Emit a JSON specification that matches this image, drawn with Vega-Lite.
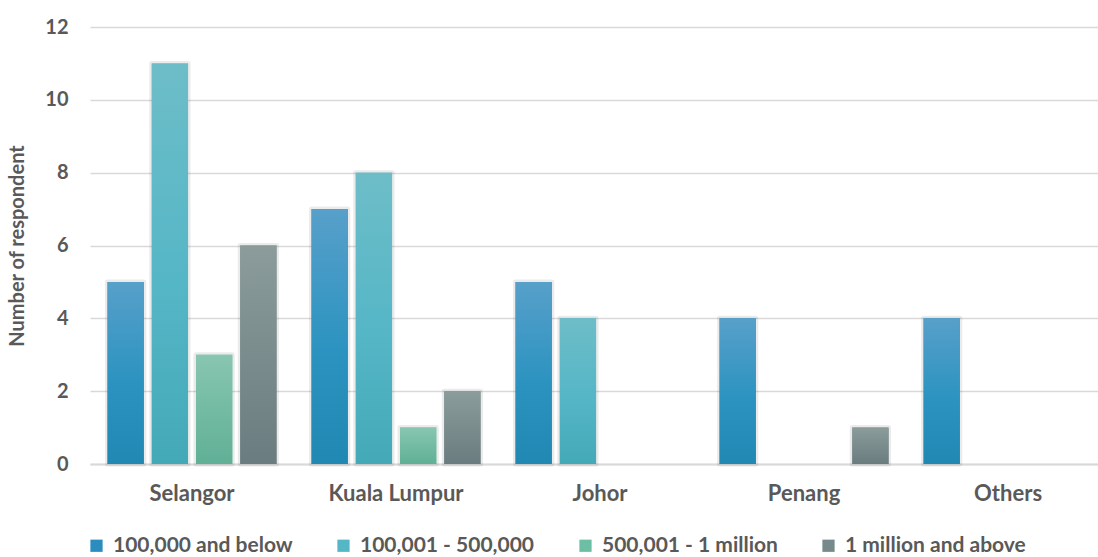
{
  "$schema": "https://vega.github.io/schema/vega-lite/v6.json",
  "width": 1008,
  "height": 437,
  "autosize": "none",
  "padding": {"left": 90, "top": 27, "right": 0, "bottom": 93},
  "background": "#ffffff",
  "config": {
    "view": {"stroke": null},
    "font": "Lato",
    "axis": {"labelFont": "Lato", "titleFont": "Lato", "labelColor": "#595959", "titleColor": "#595959"},
    "legend": {"labelFont": "Lato"}
  },
  "data": {
    "values": [
      {"region": "Selangor", "band": "100,000 and below", "count": 5},
      {"region": "Selangor", "band": "100,001 - 500,000", "count": 11},
      {"region": "Selangor", "band": "500,001 - 1 million", "count": 3},
      {"region": "Selangor", "band": "1 million and above", "count": 6},
      {"region": "Kuala Lumpur", "band": "100,000 and below", "count": 7},
      {"region": "Kuala Lumpur", "band": "100,001 - 500,000", "count": 8},
      {"region": "Kuala Lumpur", "band": "500,001 - 1 million", "count": 1},
      {"region": "Kuala Lumpur", "band": "1 million and above", "count": 2},
      {"region": "Johor", "band": "100,000 and below", "count": 5},
      {"region": "Johor", "band": "100,001 - 500,000", "count": 4},
      {"region": "Johor", "band": "500,001 - 1 million", "count": 0},
      {"region": "Johor", "band": "1 million and above", "count": 0},
      {"region": "Penang", "band": "100,000 and below", "count": 4},
      {"region": "Penang", "band": "100,001 - 500,000", "count": 0},
      {"region": "Penang", "band": "500,001 - 1 million", "count": 0},
      {"region": "Penang", "band": "1 million and above", "count": 1},
      {"region": "Others", "band": "100,000 and below", "count": 4},
      {"region": "Others", "band": "100,001 - 500,000", "count": 0},
      {"region": "Others", "band": "500,001 - 1 million", "count": 0},
      {"region": "Others", "band": "1 million and above", "count": 0}
    ]
  },
  "encoding": {
    "x": {
      "field": "region",
      "type": "nominal",
      "sort": ["Selangor", "Kuala Lumpur", "Johor", "Penang", "Others"],
      "scale": {"paddingInner": 0.1716, "paddingOuter": 0.0562, "align": 0.764},
      "axis": {
        "title": null,
        "labelAngle": 0,
        "labelFontSize": 22,
        "labelFontWeight": "bold",
        "labelPadding": 19,
        "ticks": false,
        "domainColor": "#d9d9d9",
        "domainWidth": 2
      }
    },
    "xOffset": {
      "field": "band",
      "type": "nominal",
      "sort": ["100,000 and below", "100,001 - 500,000", "500,001 - 1 million", "1 million and above"],
      "scale": {
        "domain": ["100,000 and below", "100,001 - 500,000", "500,001 - 1 million", "1 million and above"],
        "paddingInner": 0.18,
        "paddingOuter": 0
      }
    },
    "y": {
      "field": "count",
      "type": "quantitative",
      "scale": {"domain": [0, 12], "nice": false},
      "axis": {
        "title": "Number of respondent",
        "titleFontSize": 20,
        "titleFontWeight": "bold",
        "titlePadding": 17,
        "values": [0, 2, 4, 6, 8, 10, 12],
        "labelFontSize": 20,
        "labelFontWeight": "bold",
        "labelPadding": 22,
        "ticks": false,
        "domain": false,
        "gridColor": "#d9d9d9",
        "gridWidth": 1.5
      }
    }
  },
  "layer": [
    {
      "mark": {"type": "bar", "fill": null, "stroke": "#000000", "strokeOpacity": 0.08, "strokeWidth": 5, "strokeJoin": "round"},
      "transform": [{"filter": "datum.count > 0"}]
    },
    {
      "mark": {"type": "bar"},
      "encoding": {
        "color": {
          "field": "band",
          "type": "nominal",
          "sort": ["100,000 and below", "100,001 - 500,000", "500,001 - 1 million", "1 million and above"],
          "scale": {
            "domain": ["100,000 and below", "100,001 - 500,000", "500,001 - 1 million", "1 million and above"],
            "range": ["#2a8cbf", "#55b6c6", "#6dbfa3", "#76898b"]
          },
          "legend": {
            "title": null,
            "orient": "none",
            "direction": "horizontal",
            "legendX": -4,
            "legendY": 508,
            "symbolType": "square",
            "symbolSize": 150,
            "symbolStrokeWidth": 0,
            "labelFontSize": 21,
            "labelFontWeight": "bold",
            "labelColor": "#595959",
            "labelOffset": 6,
            "columnPadding": 40,
            "labelLimit": 400
          }
        }
      }
    },
    {
      "transform": [{"filter": "datum.band === '100,000 and below'"}],
      "mark": {
        "type": "bar",
        "color": {"gradient": "linear", "x1": 0, "y1": 0, "x2": 0, "y2": 1,
          "stops": [{"offset": 0, "color": "#57a0ca"}, {"offset": 0.55, "color": "#2c93c0"}, {"offset": 1, "color": "#2187b3"}]}
      }
    },
    {
      "transform": [{"filter": "datum.band === '100,001 - 500,000'"}],
      "mark": {
        "type": "bar",
        "color": {"gradient": "linear", "x1": 0, "y1": 0, "x2": 0, "y2": 1,
          "stops": [{"offset": 0, "color": "#6dbdc8"}, {"offset": 0.55, "color": "#55b6c6"}, {"offset": 1, "color": "#44a9b7"}]}
      }
    },
    {
      "transform": [{"filter": "datum.band === '500,001 - 1 million'"}],
      "mark": {
        "type": "bar",
        "color": {"gradient": "linear", "x1": 0, "y1": 0, "x2": 0, "y2": 1,
          "stops": [{"offset": 0, "color": "#88c6b1"}, {"offset": 1, "color": "#60b096"}]}
      }
    },
    {
      "transform": [{"filter": "datum.band === '1 million and above'"}],
      "mark": {
        "type": "bar",
        "color": {"gradient": "linear", "x1": 0, "y1": 0, "x2": 0, "y2": 1,
          "stops": [{"offset": 0, "color": "#8b9c9b"}, {"offset": 1, "color": "#6a7c7f"}]}
      }
    }
  ]
}
